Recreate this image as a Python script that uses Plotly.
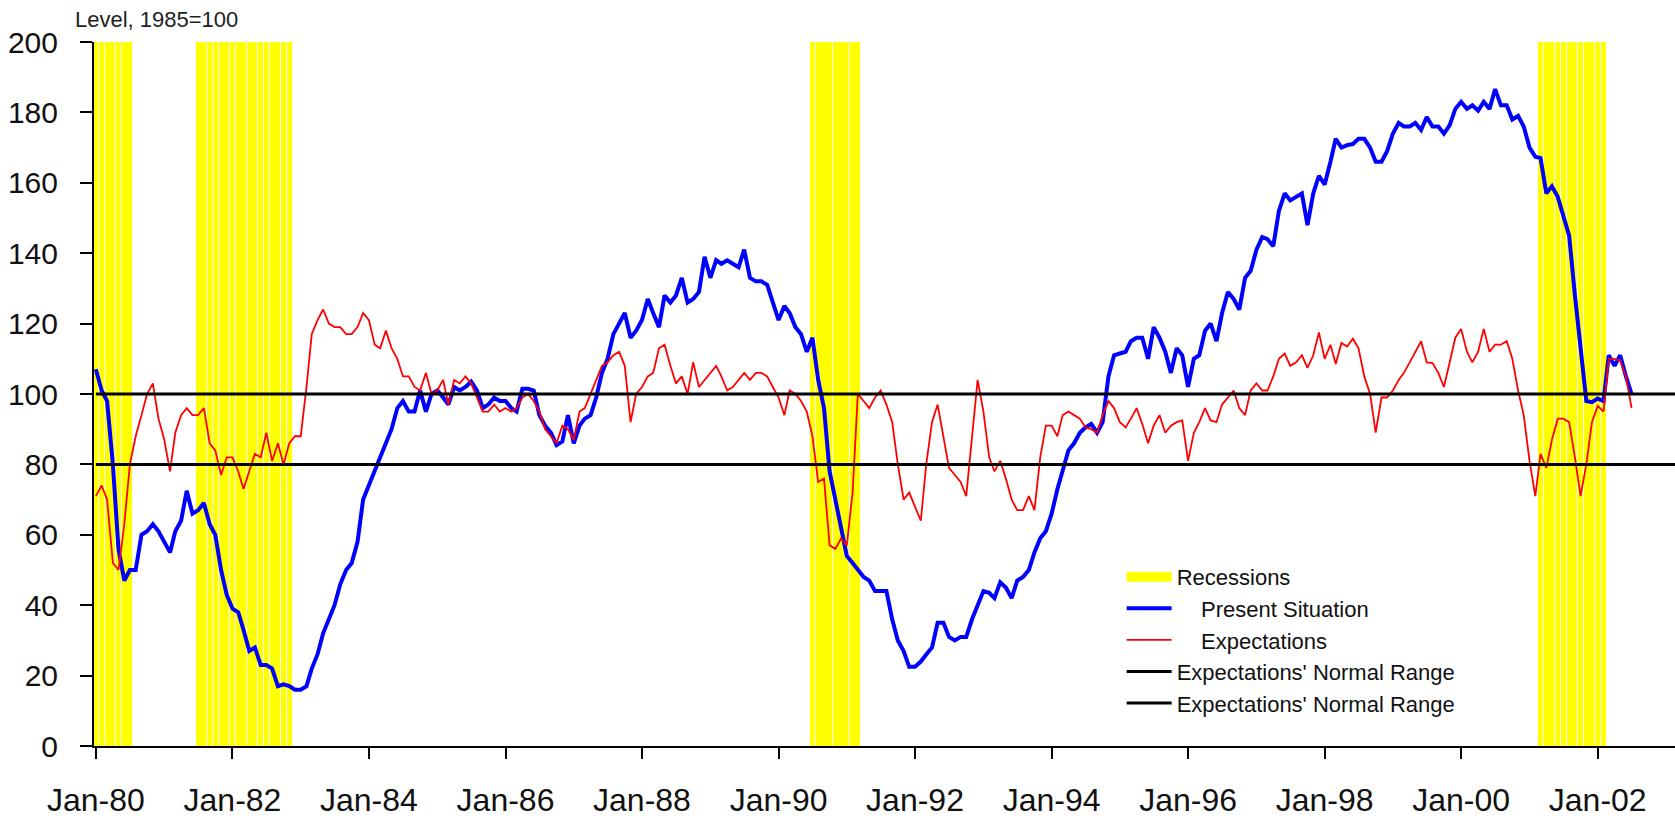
import pandas as pd
import plotly.graph_objects as go

# ---------------- data (monthly, Jan-1980 .. Jul-2002) ----------------
START = "1980-01-01"

present_situation = [
    107, 101, 98, 80, 56, 47, 50, 50, 60, 61, 63, 61,            # 1980
    58, 55, 61, 64, 72.5, 66, 67, 69, 63, 60, 50, 43,             # 1981
    39, 38, 33, 27, 28, 23, 23, 22, 17, 17.5, 17, 16,             # 1982
    16, 17, 22, 26, 32, 36, 40, 46, 50, 52, 58, 70,               # 1983
    74, 78, 82, 86, 90, 96, 98, 95, 95, 101, 95, 100,             # 1984
    101, 99, 97, 102, 101, 102, 103.5, 101, 96, 97, 99, 98,       # 1985
    98, 96, 95, 101.5, 101.5, 101, 94, 91, 89, 85.5, 86.5, 94,    # 1986
    86, 91, 93, 94, 99, 106, 110, 117, 120, 123, 116, 118,        # 1987
    121, 127, 123, 119, 128, 126, 128, 133, 126, 127, 129, 139,   # 1988
    133, 138, 137, 138, 137, 136, 141, 133, 132, 132, 131, 126,   # 1989
    121, 125, 123, 119, 117, 112, 116, 104, 96, 78, 70, 62,       # 1990
    54, 52, 50, 48, 47, 44, 44, 44, 36, 30, 27, 22.5,             # 1991
    22.5, 24, 26, 28, 35, 35, 31, 30, 31, 31, 36, 40,             # 1992
    44, 43.5, 42, 46.5, 45, 42, 47, 48, 50, 55, 59, 61,           # 1993
    66, 73, 78, 84, 86, 89, 90.5, 91.5, 89, 92, 105, 111,         # 1994
    111.5, 112, 115, 116, 116, 110, 119, 116, 112, 106, 113, 111, # 1995
    102, 110, 111, 118, 120, 115, 123, 129, 127, 124, 133, 135,   # 1996
    141, 144.6, 144, 142, 152, 157, 155, 156, 157, 148, 157, 162, # 1997
    159.5, 166, 172.5, 170, 170.7, 171, 172.5, 172.5, 170, 166, 166, 169,  # 1998
    174, 177, 176, 176, 177, 175, 178.7, 176, 176, 174, 176.4, 181,        # 1999
    183, 181, 182, 180.5, 183, 181, 186.6, 182, 182, 178, 179, 176,        # 2000
    170, 167.4, 167, 157, 159, 156, 151, 145, 128, 113, 98, 97.7,          # 2001
    98.7, 98, 111, 108, 111, 105, 100,                                     # 2002
]

expectations = [
    71, 74, 70, 52, 50, 63, 80, 88, 94, 100, 103, 93,             # 1980
    87, 78, 89, 94, 96, 94, 94, 96, 86, 84, 77, 82,               # 1981
    82, 78, 73, 78, 83, 82, 89, 81, 86, 80, 86, 88,               # 1982
    88, 102, 117, 121, 124, 120, 119, 119, 117, 117, 119, 123,    # 1983
    121, 114, 113, 118, 113, 110, 105, 105, 102, 101, 106, 100,   # 1984
    101, 104, 97, 104, 103, 105, 103, 99, 95, 95, 97, 95,         # 1985
    96, 95, 96, 99, 100, 98, 95, 90, 88, 86, 91, 90,              # 1986
    87, 95, 96, 100, 104, 108, 109, 111, 112, 108, 92, 100,       # 1987
    102, 105, 106, 113, 114, 108, 103, 105, 100, 109, 102, 104,   # 1988
    106, 108, 105, 101, 102, 104, 106, 104, 106, 106, 105, 102,   # 1989
    99, 94, 101, 100, 98, 95, 88, 75, 76, 57, 56, 59,             # 1990
    57, 72, 100, 98, 96, 99, 101, 97, 92, 80, 70, 72,             # 1991
    68, 64, 80, 92, 97, 88, 79, 77, 75, 71, 88, 104,              # 1992
    95, 82, 78, 81, 76, 70, 67, 67, 71, 67, 82, 91,               # 1993
    91, 88, 94, 95, 94, 93, 90.5, 90, 89, 94, 98, 96,             # 1994
    92, 90.5, 93, 96, 91.5, 86, 91, 94, 89, 91, 92, 92.5,         # 1995
    81, 89, 92, 96, 92.5, 92, 97, 99, 101, 96, 94, 101,           # 1996
    103, 101, 101, 105, 110, 111.5, 108, 109, 111, 107.4, 111, 117.5,      # 1997
    110, 114, 108.5, 114.5, 113.5, 115.7, 113, 105, 100, 89, 99, 99,       # 1998
    101, 104, 106, 109, 112, 115, 109, 108.8, 106, 102, 109, 116,          # 1999
    118.5, 112, 109, 112, 118.5, 112, 114, 114, 115, 110, 101, 94,         # 2000
    81, 71, 83, 79, 87, 93, 93, 92, 82, 71, 80, 92,                        # 2001
    96.6, 95, 110, 110, 109.5, 105, 96,                                    # 2002
]

# recession periods (first month, last month)
recessions = [
    ("1980-01-01", "1980-07-01"),
    ("1981-07-01", "1982-11-01"),
    ("1990-07-01", "1991-03-01"),
    ("2001-03-01", "2002-02-01"),
]

normal_range = [100, 80]          # Expectations' normal range bounds
y_ticks = list(range(0, 201, 20))
Y_MAX = 200

# ---------------- figure ----------------
dates = pd.date_range(START, periods=len(present_situation), freq="MS")
rec_months = []
for s, e in recessions:
    rec_months.extend(pd.date_range(s, e, freq="MS"))

MONTH_MS = 30.4375 * 86400000
x_start = pd.Timestamp(START) - pd.Timedelta(days=10)
x_end = pd.Timestamp(START) + pd.Timedelta(days=277.6 * 30.4375)

FONT = "Liberation Sans, Arial, sans-serif"

fig = go.Figure()

fig.add_trace(go.Bar(
    x=rec_months, y=[Y_MAX] * len(rec_months),
    width=0.89 * MONTH_MS,
    marker=dict(color="#FFFF00", line=dict(width=0)),
    showlegend=False, hoverinfo="skip",
))
# legend swatch for recessions
fig.add_trace(go.Scatter(
    x=[None], y=[None], mode="lines", name="Recessions",
    line=dict(color="#FFFF00", width=16),
))
fig.add_trace(go.Scatter(
    x=dates, y=present_situation, mode="lines",
    name="\u00a0\u00a0\u00a0\u00a0Present Situation",
    line=dict(color="#0000FF", width=4),
))
fig.add_trace(go.Scatter(
    x=dates, y=expectations, mode="lines",
    name="\u00a0\u00a0\u00a0\u00a0Expectations",
    line=dict(color="#FF0000", width=1.8),
))
for lvl in normal_range:
    fig.add_trace(go.Scatter(
        x=[dates[0], x_end], y=[lvl, lvl], mode="lines",
        name="Expectations' Normal Range",
        line=dict(color="#000000", width=3),
    ))

fig.update_layout(
    width=1675, height=818,
    margin=dict(l=94, r=0, t=42, b=61),
    paper_bgcolor="white", plot_bgcolor="white",
    bargap=0,
    font=dict(family=FONT, color="#111111"),
    legend=dict(
        x=0.650, y=0.270, xanchor="left", yanchor="top",
        bgcolor="rgba(0,0,0,0)", font=dict(size=22, family=FONT, color="#111111"),
        itemwidth=45, tracegroupgap=0, traceorder="normal",
    ),
    annotations=[dict(
        text="Level, 1985=100", xref="paper", yref="paper",
        x=-0.0135, y=1.032, xanchor="left", yanchor="middle",
        showarrow=False, font=dict(size=22, family=FONT, color="#222222"),
    )],
)

fig.update_xaxes(
    type="date", range=[x_start, x_end],
    tick0=START, dtick="M24", tickformat="%b-%y",
    showgrid=False, zeroline=False,
    showline=True, linecolor="#000000", linewidth=2,
    ticks="outside", ticklen=11, tickwidth=2, tickcolor="#000000",
    tickfont=dict(size=32, family=FONT, color="#111111"),
    ticklabelstandoff=14,
)
fig.update_yaxes(
    range=[0, Y_MAX], tickvals=y_ticks,
    showgrid=False, zeroline=False,
    showline=True, linecolor="#000000", linewidth=2,
    ticks="outside", ticklen=12, tickwidth=2, tickcolor="#000000",
    tickfont=dict(size=30, family=FONT, color="#111111"),
    ticklabelstandoff=16,
)

fig.write_html(
    "out.html",
    config={"displayModeBar": False},
    post_script="document.body.style.margin='0px';",
)
